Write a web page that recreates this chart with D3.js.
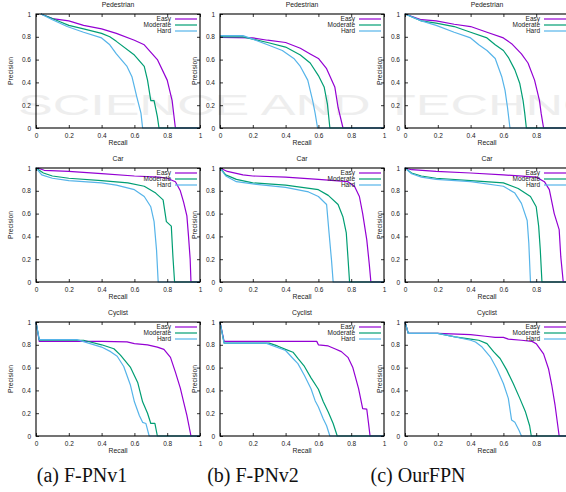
<html>
<head>
<title>PR curves</title>
<script src="https://d3js.org/d3.v7.min.js"></script>
<style>
    body { margin: 0; background: #fff; }
    svg { font-family: "Liberation Sans", Arial, sans-serif; }
</style>
</head>
<body>
<script>
// ---- data (recall, precision) ----
var methods = ["(a) F-PNv1", "(b) F-PNv2", "(c) OurFPN"];
var classes = ["Pedestrian", "Car", "Cyclist"];
var levels = ["Easy", "Moderate", "Hard"];
var tickLabels = ["0", "0.2", "0.4", "0.6", "0.8", "1"];

var pedV1Easy = [[0.03,1],[0.1,0.96],[0.2,0.94],[0.29,0.9],[0.4,0.87],[0.49,0.83],[0.6,0.77],[0.66,0.73],[0.74,0.6],[0.8,0.42],[0.83,0.24],[0.85,0],[1,0]];
var pedV1Mod = [[0.03,1],[0.1,0.96],[0.15,0.93],[0.2,0.9],[0.29,0.87],[0.4,0.83],[0.45,0.8],[0.49,0.76],[0.6,0.64],[0.66,0.54],[0.68,0.42],[0.7,0.24],[0.72,0.24],[0.74,0.1],[0.75,0],[1,0]];
var pedV1Hard = [[0.03,1],[0.1,0.95],[0.19,0.89],[0.29,0.84],[0.4,0.79],[0.45,0.73],[0.49,0.65],[0.555,0.54],[0.585,0.45],[0.615,0.27],[0.64,0.13],[0.65,0],[1,0]];

var pedV2Easy = [[0,0.795],[0.2,0.79],[0.29,0.77],[0.4,0.75],[0.49,0.7],[0.55,0.65],[0.6,0.61],[0.65,0.52],[0.7,0.36],[0.72,0.18],[0.75,0],[1,0]];
var pedV2Mod = [[0,0.8],[0.14,0.8],[0.2,0.78],[0.29,0.75],[0.4,0.71],[0.49,0.64],[0.55,0.57],[0.6,0.46],[0.635,0.36],[0.655,0.21],[0.67,0],[1,0]];
var pedV2Hard = [[0,0.81],[0.14,0.81],[0.2,0.78],[0.29,0.73],[0.38,0.68],[0.45,0.61],[0.49,0.54],[0.535,0.42],[0.565,0.24],[0.58,0.13],[0.595,0],[1,0]];

var pedOurEasy = [[0,1],[0.1,0.95],[0.19,0.94],[0.3,0.91],[0.4,0.89],[0.5,0.84],[0.6,0.79],[0.65,0.74],[0.71,0.65],[0.75,0.57],[0.79,0.42],[0.82,0.24],[0.83,0.13],[0.845,0],[1,0]];
var pedOurMod = [[0,1],[0.1,0.94],[0.19,0.92],[0.3,0.89],[0.4,0.84],[0.5,0.79],[0.55,0.73],[0.6,0.68],[0.63,0.62],[0.67,0.51],[0.7,0.39],[0.72,0.24],[0.73,0.13],[0.74,0],[1,0]];
var pedOurHard = [[0,1],[0.1,0.94],[0.19,0.9],[0.3,0.84],[0.4,0.79],[0.45,0.73],[0.5,0.68],[0.55,0.61],[0.59,0.45],[0.61,0.33],[0.625,0.18],[0.64,0],[1,0]];

var carV1Easy = [[0.01,1],[0.05,0.98],[0.2,0.97],[0.4,0.95],[0.6,0.93],[0.75,0.92],[0.8,0.91],[0.85,0.88],[0.88,0.8],[0.9,0.7],[0.92,0.58],[0.93,0.4],[0.94,0.2],[0.945,0],[1,0]];
var carV1Mod = [[0,1],[0.045,0.956],[0.1,0.93],[0.2,0.91],[0.4,0.89],[0.56,0.87],[0.66,0.84],[0.73,0.78],[0.775,0.72],[0.795,0.53],[0.825,0.49],[0.835,0.22],[0.845,0],[1,0]];
var carV1Hard = [[0,1],[0.035,0.94],[0.1,0.91],[0.2,0.89],[0.4,0.87],[0.49,0.85],[0.6,0.81],[0.66,0.75],[0.7,0.66],[0.72,0.53],[0.735,0.28],[0.745,0],[1,0]];

var carV2Easy = [[0,1],[0.045,0.97],[0.14,0.94],[0.2,0.93],[0.4,0.92],[0.6,0.9],[0.78,0.88],[0.82,0.84],[0.85,0.75],[0.87,0.6],[0.895,0.37],[0.91,0.16],[0.92,0],[1,0]];
var carV2Mod = [[0,1],[0.035,0.94],[0.1,0.9],[0.2,0.87],[0.4,0.85],[0.6,0.81],[0.66,0.76],[0.72,0.68],[0.75,0.57],[0.77,0.43],[0.78,0.22],[0.79,0],[1,0]];
var carV2Hard = [[0,1],[0.035,0.93],[0.1,0.88],[0.2,0.86],[0.4,0.83],[0.54,0.79],[0.6,0.75],[0.65,0.68],[0.665,0.43],[0.68,0.19],[0.69,0],[1,0]];

var carOurEasy = [[0,1],[0.04,0.985],[0.19,0.97],[0.4,0.956],[0.6,0.94],[0.8,0.92],[0.85,0.88],[0.88,0.81],[0.91,0.6],[0.94,0.46],[0.95,0.22],[0.965,0],[1,0]];
var carOurMod = [[0,1],[0.04,0.956],[0.1,0.93],[0.19,0.91],[0.4,0.89],[0.6,0.87],[0.69,0.82],[0.765,0.75],[0.8,0.66],[0.815,0.49],[0.825,0.28],[0.835,0],[1,0]];
var carOurHard = [[0,1],[0.04,0.95],[0.1,0.92],[0.19,0.9],[0.4,0.88],[0.6,0.84],[0.67,0.78],[0.71,0.69],[0.745,0.54],[0.755,0.34],[0.765,0],[1,0]];

var cycV1Easy = [[0,1],[0.02,0.83],[0.4,0.83],[0.555,0.825],[0.6,0.81],[0.68,0.8],[0.74,0.78],[0.78,0.76],[0.82,0.69],[0.85,0.56],[0.88,0.42],[0.9,0.3],[0.92,0.18],[0.945,0],[1,0]];
var cycV1Mod = [[0,1],[0.02,0.84],[0.29,0.84],[0.4,0.8],[0.475,0.765],[0.515,0.71],[0.575,0.605],[0.62,0.47],[0.65,0.3],[0.68,0.2],[0.7,0.11],[0.725,0.11],[0.74,0],[1,0]];
var cycV1Hard = [[0,1],[0.02,0.845],[0.25,0.845],[0.4,0.78],[0.455,0.74],[0.495,0.7],[0.535,0.61],[0.575,0.45],[0.6,0.3],[0.63,0.18],[0.65,0.12],[0.67,0.11],[0.69,0],[1,0]];

var cycV2Easy = [[0,1],[0.025,0.83],[0.59,0.83],[0.6,0.8],[0.66,0.79],[0.7,0.765],[0.74,0.74],[0.78,0.69],[0.81,0.6],[0.845,0.415],[0.87,0.24],[0.895,0.235],[0.905,0.12],[0.915,0],[1,0]];
var cycV2Mod = [[0,1],[0.025,0.815],[0.3,0.815],[0.35,0.79],[0.4,0.76],[0.445,0.735],[0.475,0.68],[0.515,0.61],[0.555,0.51],[0.6,0.41],[0.63,0.3],[0.66,0.21],[0.69,0.11],[0.715,0],[1,0]];
var cycV2Hard = [[0,1],[0.025,0.815],[0.28,0.815],[0.4,0.75],[0.445,0.68],[0.475,0.635],[0.515,0.53],[0.555,0.415],[0.58,0.31],[0.6,0.255],[0.63,0.15],[0.65,0.09],[0.67,0],[1,0]];

var cycOurEasy = [[0,1],[0.02,0.9],[0.2,0.9],[0.4,0.89],[0.49,0.875],[0.55,0.865],[0.6,0.865],[0.63,0.85],[0.71,0.84],[0.775,0.83],[0.8,0.81],[0.845,0.72],[0.875,0.59],[0.895,0.445],[0.915,0.27],[0.94,0],[1,0]];
var cycOurMod = [[0,1],[0.02,0.9],[0.2,0.9],[0.305,0.87],[0.4,0.85],[0.45,0.84],[0.5,0.81],[0.54,0.74],[0.58,0.68],[0.62,0.58],[0.66,0.46],[0.7,0.33],[0.735,0.21],[0.76,0.09],[0.77,0],[1,0]];
var cycOurHard = [[0,1],[0.02,0.9],[0.2,0.9],[0.305,0.87],[0.4,0.84],[0.43,0.825],[0.47,0.78],[0.52,0.695],[0.56,0.59],[0.6,0.46],[0.63,0.33],[0.65,0.14],[0.67,0.12],[0.695,0.05],[0.71,0],[1,0]];

// rows = class, cols = method
var curves = [
    [[pedV1Easy, pedV1Mod, pedV1Hard], [pedV2Easy, pedV2Mod, pedV2Hard], [pedOurEasy, pedOurMod, pedOurHard]],
    [[carV1Easy, carV1Mod, carV1Hard], [carV2Easy, carV2Mod, carV2Hard], [carOurEasy, carOurMod, carOurHard]],
    [[cycV1Easy, cycV1Mod, cycV1Hard], [cycV2Easy, cycV2Mod, cycV2Hard], [cycOurEasy, cycOurMod, cycOurHard]]
];

var colors = ["#9400d3", "#009e73", "#56b4e9"];

// ---- layout ----
var width = 566, height = 492;
var colLeft = [36, 220, 405];
var rowTop = [14, 168, 322];
var pw = 164, ph = 114;
var tickVals = [0, 0.2, 0.4, 0.6, 0.8, 1];

var svg = d3.select("body")
    .append("svg")
    .attr("width", width)
    .attr("height", height);

// faint watermark behind the plots
svg.append("text")
    .attr("x", 18)
    .attr("y", 115)
    .attr("font-size", 30)
    .attr("textLength", 730)
    .attr("lengthAdjust", "spacingAndGlyphs")
    .attr("fill", "#eeeeee")
    .text("SCIENCE AND TECHNOLOGY");

for (var r = 0; r < 3; r++) {
    for (var c = 0; c < 3; c++) {
        drawPanel(r, c);
    }
}

function drawPanel(r, c) {
    var x0 = colLeft[c], y0 = rowTop[r];
    var x = d3.scaleLinear().domain([0, 1]).range([0, pw]);
    var y = d3.scaleLinear().domain([0, 1]).range([ph, 0]);

    var g = svg.append("g").attr("transform", "translate(" + x0 + "," + y0 + ")");

    // curves
    var line = d3.line()
        .x(function(d) { return x(d[0]); })
        .y(function(d) { return y(d[1]); });

    curves[r][c].forEach(function(data, i) {
        g.append("path")
            .datum(data)
            .attr("d", line)
            .attr("fill", "none")
            .attr("stroke", colors[i])
            .attr("stroke-width", 1.2)
            .attr("stroke-linejoin", "round");
    });

    // ticks (inward, mirrored)
    var bottom = d3.axisBottom(x).tickValues(tickVals).tickSize(-3)
        .tickFormat(function(d, i) { return tickLabels[i]; });
    var top = d3.axisTop(x).tickValues(tickVals).tickSize(-3).tickFormat("");
    var left = d3.axisLeft(y).tickValues(tickVals).tickSize(-3)
        .tickFormat(function(d, i) { return tickLabels[i]; });
    var right = d3.axisRight(y).tickValues(tickVals).tickSize(-3).tickFormat("");

    var ax = [
        g.append("g").attr("transform", "translate(0," + ph + ")").call(bottom),
        g.append("g").call(top),
        g.append("g").call(left),
        g.append("g").attr("transform", "translate(" + pw + ",0)").call(right)
    ];
    ax.forEach(function(a) {
        a.attr("font-family", null).attr("font-size", null);
        a.select(".domain").remove();
        a.selectAll("line").attr("stroke", "#000").attr("stroke-width", 0.8);
        a.selectAll("text").attr("font-size", 6.5).attr("fill", "#222");
    });
    ax[0].selectAll("text").attr("y", 5);
    ax[2].selectAll("text").attr("x", -5);

    // frame
    g.append("rect")
        .attr("width", pw).attr("height", ph)
        .attr("fill", "none")
        .attr("stroke", "#000")
        .attr("stroke-width", 1.1);

    // title
    g.append("text")
        .attr("x", pw / 2).attr("y", -7)
        .attr("text-anchor", "middle")
        .attr("font-size", 6.8).attr("fill", "#222")
        .text(classes[r]);

    // axis labels
    g.append("text")
        .attr("x", pw / 2).attr("y", ph + 17)
        .attr("text-anchor", "middle")
        .attr("font-size", 6.8).attr("fill", "#222")
        .text("Recall");

    g.append("text")
        .attr("transform", "translate(-23," + (ph / 2) + ") rotate(-90)")
        .attr("text-anchor", "middle")
        .attr("font-size", 6.8).attr("fill", "#222")
        .text("Precision");

    // legend
    levels.forEach(function(name, i) {
        var ly = 5 + i * 6;
        g.append("text")
            .attr("x", pw - 29).attr("y", ly + 2.3)
            .attr("text-anchor", "end")
            .attr("font-size", 6.5).attr("fill", "#222")
            .text(name);
        g.append("line")
            .attr("x1", pw - 25).attr("x2", pw - 3)
            .attr("y1", ly).attr("y2", ly)
            .attr("stroke", colors[i])
            .attr("stroke-width", 1.2);
    });
}

// captions
var capX = [82, 253, 418];
methods.forEach(function(m, i) {
    svg.append("text")
        .attr("x", capX[i]).attr("y", 482)
        .attr("text-anchor", "middle")
        .style("font-family", "'Liberation Serif', 'Times New Roman', serif")
        .attr("font-size", 20)
        .attr("fill", "#111")
        .text(m);
});
</script>
</body>
</html>
